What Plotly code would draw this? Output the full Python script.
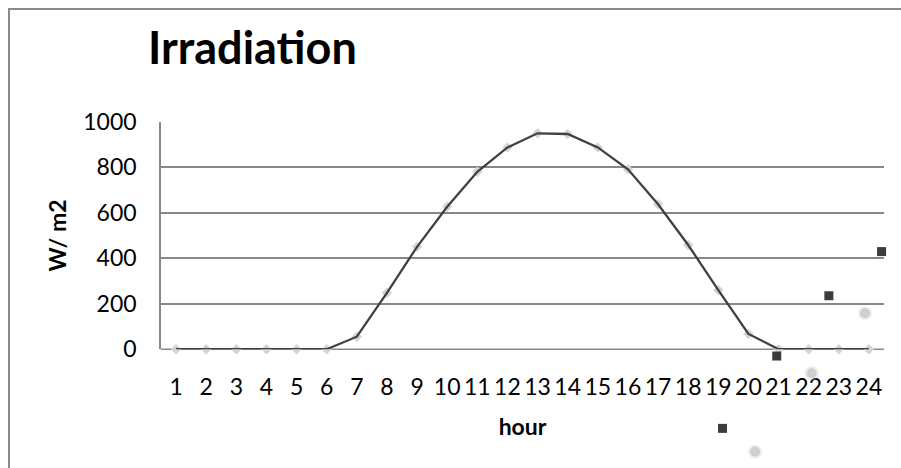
import plotly.graph_objects as go

hours = list(range(1, 25))
irradiation = [0, 0, 0, 0, 0, 0, 55, 248, 450, 626, 780, 887, 949, 946, 887, 791,
               637, 458, 260, 67, 0, 0, 0, 0]

# stray marker series visible in the picture (outside the plot area)
dark_x = [19.14, 20.94, 22.67, 24.42]
dark_y = [-348, -30, 235, 429]
light_x = [20.22, 22.10, 23.87]
light_y = [-451, -106, 158]

y_ticks = [0, 200, 400, 600, 800, 1000]

FONT = "Lato"
GRID = "#878787"

W, H = 901, 468
PL, PR, PT, PB = 161.0, 884.0, 121.7, 349.2   # plot area in pixels
X_MIN, X_MAX = 0.5, 24.5
Y_MIN, Y_MAX = 0, 1000

# full-page overlay axes with the same scale, so stray points are not hidden
px_per_x = (PR - PL) / (X_MAX - X_MIN)
px_per_y = (PB - PT) / (Y_MAX - Y_MIN)
x2_range = [X_MIN - PL / px_per_x, X_MAX + (W - PR) / px_per_x]
y2_range = [Y_MIN - (H - PB) / px_per_y, Y_MAX + PT / px_per_y]

fig = go.Figure()

# light grey diamond markers under the line
fig.add_trace(go.Scatter(
    x=hours, y=irradiation, mode="markers",
    marker=dict(symbol="diamond", size=8, color="#d4d4d4"),
    cliponaxis=False, showlegend=False, hoverinfo="skip"))
# dark line
fig.add_trace(go.Scatter(
    x=hours, y=irradiation, mode="lines",
    line=dict(color="#404040", width=2.3),
    cliponaxis=False, showlegend=False, name="Irradiation"))
# stray light dots
fig.add_trace(go.Scatter(
    x=light_x, y=light_y, mode="markers", xaxis="x2", yaxis="y2",
    marker=dict(symbol="circle", size=10, color="rgba(175,175,175,0.6)",
                line=dict(width=4, color="rgba(205,205,205,0.35)")),
    cliponaxis=False, showlegend=False))
# stray dark squares
fig.add_trace(go.Scatter(
    x=dark_x, y=dark_y, mode="markers", xaxis="x2", yaxis="y2",
    marker=dict(symbol="square", size=9, color="#3c3c3c"),
    cliponaxis=False, showlegend=False))

fig.update_layout(
    width=W, height=H,
    margin=dict(l=0, r=0, t=0, b=0),
    paper_bgcolor="white", plot_bgcolor="rgba(0,0,0,0)",
    font=dict(family=FONT, size=23, color="black"),
    showlegend=False,
    xaxis=dict(
        domain=[PL / W, PR / W],
        range=[X_MIN, X_MAX], tickmode="array", tickvals=hours,
        ticktext=[str(h) for h in hours],
        showgrid=False, zeroline=False, automargin=False,
        showline=False, ticks="", ticklabelstandoff=22,
        tickfont=dict(family=FONT, size=23),
        title=dict(text="<b>hour</b>", standoff=19,
                   font=dict(family=FONT, size=23)),
    ),
    yaxis=dict(
        domain=[1 - PB / H, 1 - PT / H],
        range=[Y_MIN, Y_MAX], tickmode="array", tickvals=y_ticks,
        showgrid=True, gridcolor=GRID, gridwidth=1.6, automargin=False,
        zeroline=False, showline=True, linecolor=GRID, linewidth=1.6,
        ticks="", ticklabelstandoff=18,
        tickfont=dict(family=FONT, size=23),
        title=dict(text="<b>W/ m2</b>", standoff=10,
                   font=dict(family=FONT, size=23)),
    ),
    xaxis2=dict(domain=[0, 1], range=x2_range, visible=False,
                anchor="y2", fixedrange=True),
    yaxis2=dict(domain=[0, 1], range=y2_range, visible=False,
                anchor="x2", fixedrange=True),
    annotations=[dict(
        text="<b>Irradiation</b>", xref="paper", yref="paper",
        x=146 / W, y=1 - 47 / H,
        xanchor="left", yanchor="middle", showarrow=False,
        font=dict(family=FONT, size=45, color="black"))],
    shapes=[
        dict(type="rect", xref="paper", yref="paper",
             x0=9 / W, x1=1.02, y0=-0.05, y1=1 - 9 / H,
             line=dict(color="#8a8a8a", width=2), layer="below"),
        dict(type="line", xref="paper", yref="paper",
             x0=PL / W, x1=PR / W, y0=1 - PB / H, y1=1 - PB / H,
             line=dict(color=GRID, width=1.6), layer="below"),
    ],
)

fig.write_html("out.html")
